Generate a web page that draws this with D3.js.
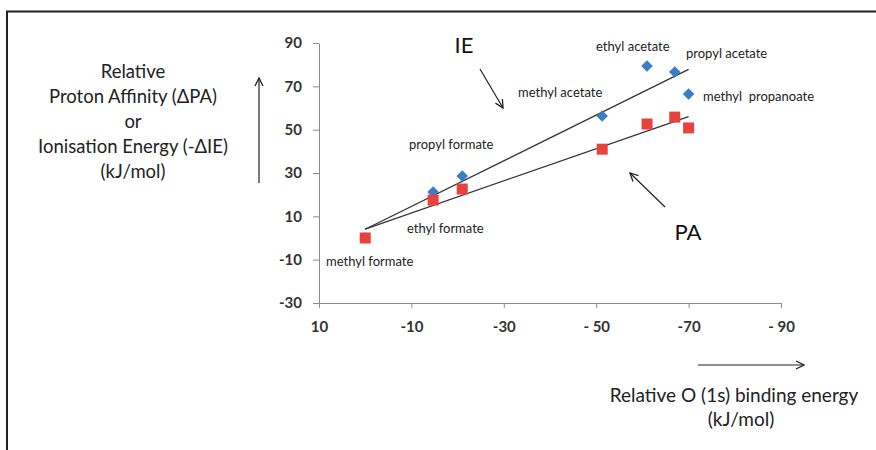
<!DOCTYPE html>
<html>
<head>
<meta charset="utf-8">
<script src="https://cdn.jsdelivr.net/npm/d3@7"></script>
<style>
  body { margin: 0; background: #fff; }
  text { font-family: Lato, "Open Sans", sans-serif; }
</style>
</head>
<body>
<div id="chart"></div>
<script>
// data
const compounds = ["methyl formate", "ethyl formate", "propyl formate", "methyl acetate",
                   "ethyl acetate", "propyl acetate", "methyl  propanoate"];
const bindingEnergy = [0, -14.7, -21, -51.3, -61, -67, -70];
const ieValues = [0, 21.2, 28.6, 56.3, 79.4, 76.6, 66.5];
const paValues = [0, 17.5, 22.6, 41, 52.6, 55.8, 50.8];
const xTicks = [10, -10, -30, -50, -70, -90];
const xTickLabels = ["10", "-10", "-30", "- 50", "-70", "- 90"];
const yTicks = [90, 70, 50, 30, 10, -10, -30];

const width = 876, height = 450;

const svg = d3.select("#chart")
    .append("svg")
    .attr("width", width)
    .attr("height", height);

// frame lines
svg.append("line").attr("x1", 6).attr("x2", width).attr("y1", 11.5).attr("y2", 11.5)
    .attr("stroke", "#231f20").attr("stroke-width", 2);
svg.append("line").attr("x1", 7).attr("x2", 7).attr("y1", 11).attr("y2", height)
    .attr("stroke", "#231f20").attr("stroke-width", 2);

const xScale = d3.scaleLinear().domain([10, -90]).range([319, 781]);
const yScale = d3.scaleLinear().domain([-30, 90]).range([303, 43]);

// axes
const axisColor = "#8c8c8c";
const yAxis = svg.append("g")
    .attr("transform", `translate(${xScale(10)},0)`)
    .call(d3.axisLeft(yScale).tickValues(yTicks).tickSize(6).tickSizeOuter(0).tickPadding(11)
        .tickFormat(d => String(d)));
const xAxis = svg.append("g")
    .attr("transform", `translate(0,${yScale(-30)})`)
    .call(d3.axisBottom(xScale).tickValues(xTicks).tickSize(5).tickSizeOuter(0).tickPadding(13)
        .tickFormat((d, i) => xTickLabels[i]));
[xAxis, yAxis].forEach(a => {
    a.select(".domain").attr("stroke", axisColor);
    a.selectAll(".tick line").attr("stroke", axisColor);
    a.selectAll(".tick text").attr("fill", "#333").style("font-size", "15px").style("font-weight", "bold");
});

// trendlines (least squares over the data)
function fit(xs, ys) {
    const mx = d3.mean(xs), my = d3.mean(ys);
    const b = d3.sum(xs, (x, i) => (x - mx) * (ys[i] - my)) / d3.sum(xs, x => (x - mx) * (x - mx));
    return { b: b, a: my - b * mx };
}
[ieValues, paValues].forEach(vals => {
    const f = fit(bindingEnergy, vals);
    const x0 = d3.max(bindingEnergy), x1 = d3.min(bindingEnergy);
    svg.append("line")
        .attr("x1", xScale(x0)).attr("y1", yScale(f.a + f.b * x0))
        .attr("x2", xScale(x1)).attr("y2", yScale(f.a + f.b * x1))
        .attr("stroke", "#333").attr("stroke-width", 1.3);
});

// IE diamonds
svg.selectAll(".ie")
    .data(ieValues)
    .enter()
    .append("path")
    .attr("class", "ie")
    .attr("d", d3.symbol(d3.symbolDiamond2, 85))
    .attr("transform", (d, i) => `translate(${xScale(bindingEnergy[i])},${yScale(d)})`)
    .attr("fill", "#3a7dc4");

// PA squares
svg.selectAll(".pa")
    .data(paValues)
    .enter()
    .append("rect")
    .attr("class", "pa")
    .attr("x", (d, i) => xScale(bindingEnergy[i]) - 5.5)
    .attr("y", d => yScale(d) - 5.5)
    .attr("width", 11)
    .attr("height", 11)
    .attr("fill", "#e8423f");

// compound labels
const labelPos = [[326, 266], [407, 233], [409, 149], [518, 97], [596, 51], [686, 58], [703, 101]];
svg.selectAll(".lbl")
    .data(compounds)
    .enter()
    .append("text")
    .attr("class", "lbl")
    .attr("x", (d, i) => labelPos[i][0])
    .attr("y", (d, i) => labelPos[i][1])
    .attr("fill", "#222")
    .style("font-size", "13px")
    .style("white-space", "pre")
    .text(d => d);

// arrow marker
svg.append("defs").append("marker")
    .attr("id", "head")
    .attr("viewBox", "0 0 10 10")
    .attr("refX", 9).attr("refY", 5)
    .attr("markerWidth", 10).attr("markerHeight", 10)
    .attr("markerUnits", "userSpaceOnUse")
    .attr("orient", "auto")
  .append("path")
    .attr("d", "M1,1 L9,5 L1,9")
    .attr("fill", "none")
    .attr("stroke", "#222")
    .attr("stroke-width", 1.3);

function arrow(x1, y1, x2, y2) {
    svg.append("line")
        .attr("x1", x1).attr("y1", y1).attr("x2", x2).attr("y2", y2)
        .attr("stroke", "#222").attr("stroke-width", 1.2)
        .attr("marker-end", "url(#head)");
}
arrow(480, 69, 503, 108);
arrow(665, 207, 630, 173);
arrow(259, 183, 259, 78);
arrow(698, 365, 804, 365);

svg.append("text").attr("x", 464).attr("y", 53).attr("text-anchor", "middle")
    .style("font-size", "22px").attr("fill", "#111").text("IE");
svg.append("text").attr("x", 688).attr("y", 240).attr("text-anchor", "middle")
    .style("font-size", "22px").attr("fill", "#111").text("PA");

// axis titles
const yTitle = ["Relative", "Proton Affinity (\u0394PA)", "or", "Ionisation Energy (-\u0394IE)", "(kJ/mol)"];
svg.selectAll(".ytitle")
    .data(yTitle)
    .enter()
    .append("text")
    .attr("class", "ytitle")
    .attr("x", 133)
    .attr("y", (d, i) => 78 + i * 25)
    .attr("text-anchor", "middle")
    .attr("fill", "#222")
    .style("font-size", "18.5px")
    .text(d => d);

svg.append("text").attr("x", 734).attr("y", 402).attr("text-anchor", "middle")
    .attr("fill", "#222").style("font-size", "19px").text("Relative O (1s) binding energy");
svg.append("text").attr("x", 741).attr("y", 426).attr("text-anchor", "middle")
    .attr("fill", "#222").style("font-size", "19px").text("(kJ/mol)");
</script>
</body>
</html>
